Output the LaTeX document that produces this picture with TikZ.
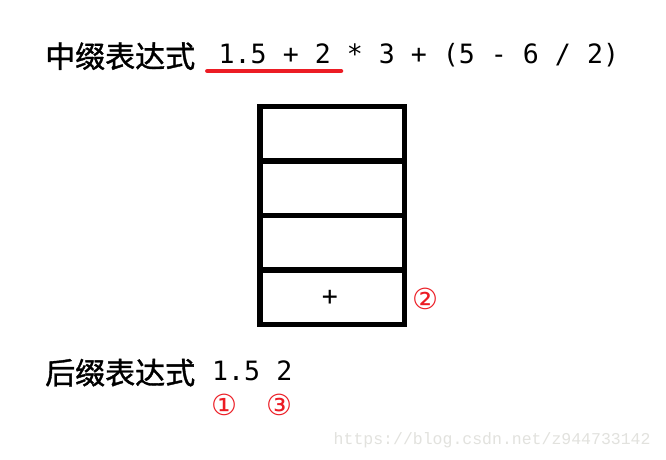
\documentclass[tikz,border=0pt]{standalone}
\usepackage{fontspec}
\newfontfamily\cjk[FakeBold=1.2]{Noto Sans CJK SC}
\newfontfamily\monof{DejaVu Sans Mono}
\newfontfamily\symf{DejaVu Sans}
\newfontfamily\wmf{Liberation Mono}
\definecolor{mkred}{RGB}{236,28,36}
\definecolor{wmgray}{RGB}{226,226,222}
\tikzset{
  cjktext/.style={anchor=base west, inner sep=0pt, font=\cjk\fontsize{30}{36}\selectfont},
  monotext/.style={anchor=base west, inner sep=0pt, font=\monof\fontsize{26.6}{32}\selectfont},
  circled/.style={anchor=base, inner sep=0pt, text=mkred, font=\symf\fontsize{29}{34}\selectfont},
  stackcell/.style={draw=black, line width=5.3pt, minimum width=144.5pt, minimum height=54.45pt, inner sep=0pt, outer sep=0pt},
  underline/.style={draw=mkred, line width=4.5pt, line cap=round},
}
\begin{document}
\begin{tikzpicture}[x=1pt,y=-1pt]
\useasboundingbox[fill=white] (0,0) rectangle (666,460);
% title line
\node[cjktext] (infixlabel) at (45,67.5) {中缀表达式};
\node[monotext] (infixexpr) at (218.5,63.3) {1.5 + 2 * 3 + (5 - 6 / 2)};
\coordinate (ulA) at (207.3,71);
\coordinate (ulB) at (341,71);
\draw[underline] (ulA) -- (ulB);
% stack
\node[stackcell] (cell1) at (332.25,133.9) {};
\node[stackcell] (cell2) at (332.25,188.4) {};
\node[stackcell] (cell3) at (332.25,242.8) {};
\node[stackcell] (cell4) at (332.25,297.25) {};
\node[inner sep=0pt, font=\monof\fontsize{26.6}{32}\selectfont] (plus) at (330,297.5) {+};
\node[circled] (c2) at (425,309.5) {②};
% postfix line
\node[cjktext] (postfixlabel) at (45,384) {后缀表达式};
\node[monotext] (postfixexpr) at (212,380.5) {1.5 2};
\node[circled] (c1) at (224,415.5) {①};
\node[circled] (c3) at (279,415.5) {③};
% watermark
\node[anchor=base west, inner sep=0pt, text=wmgray, font=\wmf\fontsize{16.5}{20}\selectfont] (wm) at (333.5,444) {https://blog.csdn.net/z944733142};
\end{tikzpicture}
\end{document}
